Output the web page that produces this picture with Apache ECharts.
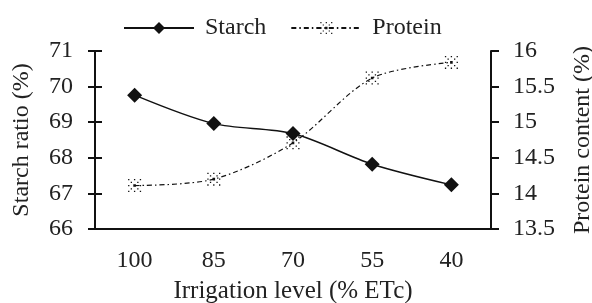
<!DOCTYPE html>
<html>
<head>
<meta charset="utf-8">
<script src="https://cdn.jsdelivr.net/npm/echarts@6/dist/echarts.min.js"></script>
<style>
  html, body { margin: 0; padding: 0; background: #fff; }
  #chart { width: 592px; height: 303px; }
</style>
</head>
<body>
<div id="chart"></div>
<script>
// 灌溉水平（X轴）
var levels = ['100', '85', '70', '55', '40']
// 淀粉比例 (%)
var starch = [69.76, 68.96, 68.68, 67.82, 67.24]
// 蛋白质含量 (%)
var protein = [14.11, 14.20, 14.71, 15.62, 15.84]

var font = 'Liberation Serif'
var fs = 24
// 蛋白质的标记：虚点叉
var crossMark = 'path://M0,0h1v1h-1zM2,2h1v1h-1zM4,4h2v2h-2zM7,7h1v1h-1zM9,9h1v1h-1z' +
  'M9,0h1v1h-1zM7,2h1v1h-1zM2,7h1v1h-1zM0,9h1v1h-1z' +
  'M4.5,0h1v1h-1zM4.5,9h1v1h-1zM0,4.5h1v1h-1zM9,4.5h1v1h-1z'

var chart = echarts.init(document.getElementById('chart'))
chart.setOption({
  animation: false,
  textStyle: { fontFamily: font, color: '#222' },
  legend: {
    top: 11,
    left: 118,
    itemWidth: 70,
    itemHeight: 15,
    itemGap: 24,
    textStyle: { fontFamily: font, fontSize: fs, color: '#222', padding: [0, 0, 0, 6] },
    data: ['Starch', 'Protein']
  },
  grid: { left: 95, right: 101, top: 51, bottom: 74, outerBoundsMode: 'none', containLabel: false },
  xAxis: {
    type: 'category',
    data: levels,
    name: 'Irrigation level (% ETc)',
    nameLocation: 'middle',
    nameGap: 50,
    nameTextStyle: { fontSize: 25, color: '#222' },
    axisLine: { lineStyle: { color: '#111', width: 2 } },
    axisTick: { show: false },
    axisLabel: { fontSize: fs, color: '#222', margin: 20 }
  },
  yAxis: [
    {
      type: 'value',
      min: 66, max: 71, interval: 1,
      name: 'Starch ratio (%)',
      nameLocation: 'middle',
      nameGap: 61,
      nameTextStyle: { fontSize: fs, color: '#222' },
      splitLine: { show: false },
      axisLine: { show: true, lineStyle: { color: '#111', width: 2 } },
      axisTick: { show: true, length: 7, lineStyle: { width: 2 } },
      axisLabel: { fontSize: fs, color: '#222', margin: 22 }
    },
    {
      type: 'value',
      min: 13.5, max: 16, interval: 0.5,
      name: 'Protein content (%)',
      nameLocation: 'middle',
      nameGap: 80,
      nameRotate: 90,
      nameTextStyle: { fontSize: fs, color: '#222' },
      splitLine: { show: false },
      axisLine: { show: true, lineStyle: { color: '#111', width: 2 } },
      axisTick: { show: true, length: 8, lineStyle: { width: 2 } },
      axisLabel: { fontSize: fs, color: '#222', margin: 22 }
    },
    {
      // 左轴内侧刻度
      type: 'value',
      position: 'left',
      min: 66, max: 71, interval: 1,
      splitLine: { show: false },
      axisLine: { show: false },
      axisTick: { show: true, inside: true, length: 7, lineStyle: { width: 2, color: '#111' } },
      axisLabel: { show: false }
    }
  ],
  series: [
    {
      name: 'Starch',
      type: 'line',
      data: starch,
      smooth: 0.3,
      symbol: 'diamond',
      symbolSize: 15,
      itemStyle: { color: '#111' },
      lineStyle: { color: '#111', width: 1.5 }
    },
    {
      name: 'Protein',
      type: 'line',
      yAxisIndex: 1,
      data: protein,
      smooth: 0.3,
      symbol: crossMark,
      symbolSize: 13,
      itemStyle: { color: '#111' },
      lineStyle: { color: '#111', width: 1.2, type: [5, 3, 1.5, 3] }
    }
  ]
})
</script>
</body>
</html>
